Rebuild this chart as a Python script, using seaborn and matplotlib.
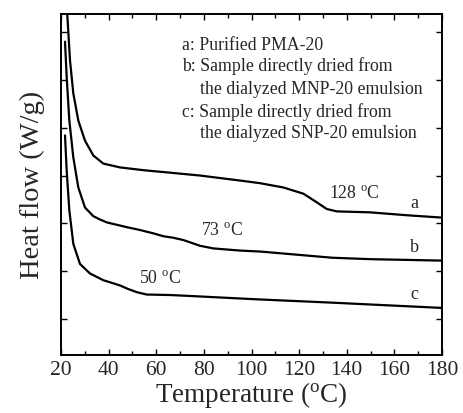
import numpy as np
import pandas as pd
import seaborn as sns
import matplotlib
matplotlib.use("Agg")
import matplotlib.pyplot as plt
from matplotlib.ticker import MultipleLocator

# Data (temperature in °C, heat flow in arbitrary offset units)
temp_a = [22.4, 22.65, 23.78, 25.17, 27.27, 30.08, 33.57, 37.77, 44.78, 55, 65.78, 78.4,
          95.2, 103.6, 113.4, 121.8, 127.4, 131.6, 135.8, 149.8, 165, 180]
flow_a = [7.8, 7.36, 6.41, 5.72, 5.15, 4.73, 4.42, 4.25, 4.17, 4.11, 4.06, 4.0,
          3.895, 3.84, 3.75, 3.62, 3.44, 3.30, 3.25, 3.23, 3.17, 3.12]

temp_b = [21.68, 22.39, 23.5, 25.17, 27.27, 30.08, 33.57, 36.4, 39.2, 43.4, 47.6, 53.2,
          58.8, 63, 67, 71.4, 78.4, 84, 95.2, 103.6, 134, 150, 180]
flow_b = [6.80, 6.06, 5.15, 4.38, 3.75, 3.33, 3.15, 3.08, 3.02, 2.97, 2.92, 2.86,
          2.79, 2.73, 2.70, 2.65, 2.53, 2.475, 2.43, 2.41, 2.28, 2.25, 2.22]

temp_c = [21.68, 22.39, 23.5, 25.17, 27.98, 32.18, 37.77, 41, 44.78, 48, 51.8, 56, 65.8,
          74.2, 102.2, 134, 180]
flow_c = [4.84, 4.10, 3.27, 2.57, 2.15, 1.95, 1.81, 1.76, 1.70, 1.63, 1.56, 1.51, 1.50,
          1.48, 1.41, 1.34, 1.23]

curve_labels = ["a", "b", "c"]
legend_lines = ["a: Purified PMA-20",
                "b: Sample directly dried from",
                "    the dialyzed MNP-20 emulsion",
                "c: Sample directly dried from",
                "    the dialyzed SNP-20 emulsion"]
tg_labels = ["128 $^{\\rm o}$C", "73 $^{\\rm o}$C", "50 $^{\\rm o}$C"]

df = pd.concat([
    pd.DataFrame({"T": temp_a, "H": flow_a, "s": "a"}),
    pd.DataFrame({"T": temp_b, "H": flow_b, "s": "b"}),
    pd.DataFrame({"T": temp_c, "H": flow_c, "s": "c"}),
])

sns.set_style("ticks")
plt.rcParams["font.family"] = ["Liberation Serif", "DejaVu Serif"]
plt.rcParams["mathtext.fontset"] = "custom"
plt.rcParams["mathtext.rm"] = "Liberation Serif"
plt.rcParams["mathtext.it"] = "Liberation Serif:italic"

fig = plt.figure(figsize=(4.63, 4.13), dpi=100)
ax = fig.add_axes([61/463, 1 - 355/413, (442-61)/463, (355-14)/413])

sns.lineplot(data=df, x="T", y="H", units="s", estimator=None, sort=False,
             color="black", lw=1.6, ax=ax, legend=False)
for ln in ax.lines:
    ln.set_solid_joinstyle("round")

ax.set_xlim(20, 180)
ax.set_ylim(0.245, 7.38)
ax.xaxis.set_major_locator(MultipleLocator(20))
ax.xaxis.set_minor_locator(MultipleLocator(10))
ax.set_yticks([1, 2, 3, 4, 5, 6, 7])
ax.set_yticklabels([])
ax.tick_params(which="both", direction="in", top=True, right=True, width=1, color="black")
ax.tick_params(which="major", length=4)
ax.tick_params(which="minor", length=3)
ax.tick_params(axis="x", labelsize=15.5, pad=4)
for sp in ax.spines.values():
    sp.set_linewidth(1.4)
    sp.set_color("black")

ax.set_xlabel("Temperature ($^{\\rm o}$C)", fontsize=19.5, labelpad=0)
ax.set_ylabel("Heat flow (W/g)", fontsize=20.5, labelpad=8)

# legend text block
ys = [45, 66, 89, 112, 134]
for line, y in zip(legend_lines, ys):
    ax.text((182-61)/381, 1 - (y-14)/341, line, transform=ax.transAxes,
            fontsize=12.8, va="center", ha="left")

# Tg annotations
ax.text(132.6, 3.62, tg_labels[0], fontsize=12.8, ha="left", va="center")
ax.text(87.6, 2.85, tg_labels[1], fontsize=12.8, ha="center", va="center")
ax.text(61.6, 1.84, tg_labels[2], fontsize=12.8, ha="center", va="center")

# curve letters
for lab, yv in zip(curve_labels, [3.41, 2.49, 1.52]):
    ax.text(168.3, yv, lab, fontsize=13, ha="center", va="center")

fig.savefig("out.png", dpi=100)
